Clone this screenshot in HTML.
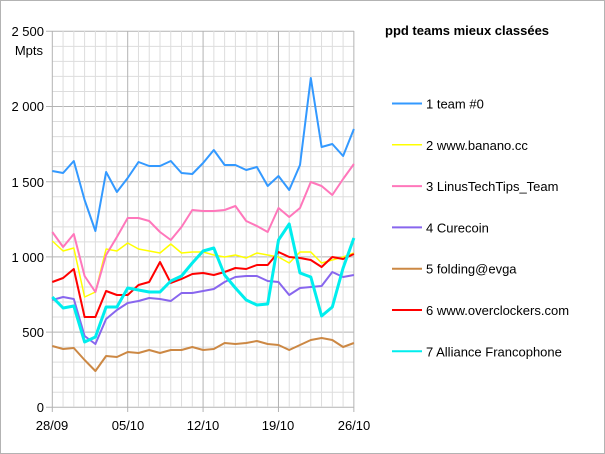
<!DOCTYPE html>
<html><head><meta charset="utf-8"><style>
body{margin:0;background:#fff}
svg{display:block;font-family:"Liberation Sans",sans-serif}
</style></head><body>
<svg id="s" width="605" height="454" xmlns="http://www.w3.org/2000/svg">
<rect x="0.5" y="0.5" width="604" height="453" fill="#fff" stroke="#b3b3b3"/>
<g id="grid"></g>
<g id="lines" fill="none" stroke-linejoin="round"></g>
<g font-size="13" fill="#000">
<text x="44" y="36" text-anchor="end">2 500</text>
<text x="43" y="55" text-anchor="end">Mpts</text>
<text x="44" y="111" text-anchor="end">2 000</text>
<text x="44" y="187" text-anchor="end">1 500</text>
<text x="44" y="262" text-anchor="end">1 000</text>
<text x="44" y="337" text-anchor="end">500</text>
<text x="44" y="412" text-anchor="end">0</text>
<text x="52" y="430" text-anchor="middle">28/09</text>
<text x="128" y="430" text-anchor="middle">05/10</text>
<text x="203" y="430" text-anchor="middle">12/10</text>
<text x="278" y="430" text-anchor="middle">19/10</text>
<text x="354" y="430" text-anchor="middle">26/10</text>
<text x="385" y="35" font-weight="bold">ppd teams mieux classées</text>
</g>
<g id="leg" font-size="13"></g>
</svg>
<script>
var g=document.getElementById('grid'),h='';
var X0=52.3,DX=10.77,Y0=407.3,K=0.1504;
for(var v=0;v<=2500;v+=100){var y=Y0-v*K,maj=v%500==0;h+='<line x1="'+(maj?46:X0)+'" x2="354" y1="'+y+'" y2="'+y+'" stroke="'+(maj?'#b3b3b3':'#dddddd')+'"/>';}
for(var i=0;i<=28;i++){var x=X0+i*DX,maj=i%7==0;h+='<line x1="'+x+'" x2="'+x+'" y1="31" y2="'+(maj?412:407)+'" stroke="'+(maj?'#b3b3b3':'#dddddd')+'"/>';}
g.innerHTML=h;
var S=[
['#3399ff',2,'1 team #0',[171,173,161,200,231,172,192,178,162,166,166,161,173,174,163,150,165,165,170,167,186,176,190,165,78,147,144,156,129]],
['#ffff00',1.5,'2 www.banano.cc',[241,251,248,297,292,249,251,243,249,251,253,244,253,252,252,255,257,255,258,253,255,257,263,252,252,263,260,257,253]],
['#ff77bb',2,'3 LinusTechTips_Team',[232,247,234,276,292,255,237,218,218,221,232,240,227,210,211,211,210,206,221,226,232,208,217,208,182,186,195,179,164]],
['#8866ee',2,'4 Curecoin',[300,297,299,336,344,319,310,303,301,298,299,301,293,293,291,289,282,277,276,276,281,282,295,288,287,286,272,277,275]],
['#cc8844',2,'5 folding@evga',[346,349,348,360,371,356,357,352,353,350,353,350,350,347,350,349,343,344,343,341,344,345,350,345,340,338,340,347,343]],
['#ff0000',2,'6 www.overclockers.com',[282,278,269,317,317,291,295,295,285,282,262,283,279,274,273,275,272,268,269,265,265,252,257,258,260,267,257,259,254]],
['#00eeee',3,'7 Alliance Francophone',[297,308,306,342,337,307,307,288,290,292,292,281,276,263,251,248,275,288,300,305,304,240,224,273,277,316,307,268,238]]];
var L='',G='';
S.forEach(function(s,k){var p=s[3].map(function(y,i){return (X0+i*DX).toFixed(1)+','+y}).join(' ');
L+='<polyline points="'+p+'" stroke="'+s[0]+'" stroke-width="'+s[1]+'"/>';
var ly=103.5+k*41.3;G+='<line x1="392" x2="422" y1="'+ly+'" y2="'+ly+'" stroke="'+s[0]+'" stroke-width="'+Math.min(s[1],2)+'"/><text x="426" y="'+(ly+5)+'">'+s[2]+'</text>';});
document.getElementById('lines').innerHTML=L;
document.getElementById('leg').innerHTML=G;
</script>
</body></html>
